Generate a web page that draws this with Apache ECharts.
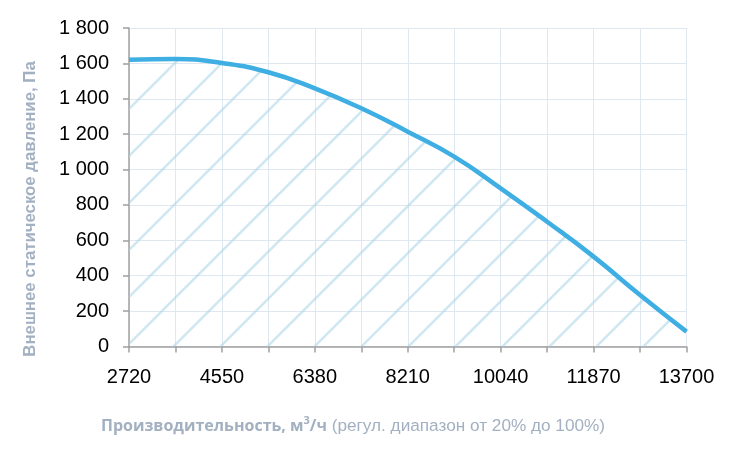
<!DOCTYPE html>
<html>
<head>
<meta charset="utf-8">
<script src="https://cdn.jsdelivr.net/npm/echarts@6/dist/echarts.min.js"></script>
<style>html,body{margin:0;padding:0;background:#fff;}#c{width:732px;height:467px;}</style>
</head>
<body>
<div id="c"></div>
<script>
// Data
var flow = [2720, 3635, 4550, 5465, 6380, 7295, 8210, 9125, 10040, 10955, 11870, 12785, 13700];
var pressure = [1620, 1625, 1602, 1550, 1459, 1346, 1214, 1073, 894, 705, 508, 291, 84];
var xTickLabels = [2720, 4550, 6380, 8210, 10040, 11870, 13700];
var xStart = 2720, xEnd = 13700, xStep = 915;
var yMax = 1800, yStep = 200;

// hatch pattern
var tile = 47;
var cv = document.createElement('canvas');
cv.width = tile; cv.height = tile;
var g = cv.getContext('2d');
g.strokeStyle = 'rgba(168,212,230,0.55)';
g.lineWidth = 2.6;
[3, 3 + tile, 3 + 2 * tile].forEach(function (c) {
  g.beginPath();
  g.moveTo(c + 5, -5);
  g.lineTo(-5, c + 5);
  g.stroke();
});

var chart = echarts.init(document.getElementById('c'));
var seriesData = flow.map(function (f, i) { return [f - xStart, pressure[i]]; });
var nameColor = '#a2b0c1';

chart.setOption({
  animation: false,
  grid: { left: 129, right: 45.5, top: 28, bottom: 120.5 },
  xAxis: {
    type: 'value', min: 0, max: xEnd - xStart, interval: xStep,
    axisLine: { show: true, lineStyle: { color: '#a0a0a0', width: 1.5 } },
    axisTick: { show: true, length: 6, lineStyle: { color: '#a0a0a0', width: 1.5 } },
    splitLine: { show: true, lineStyle: { color: '#dfe7f1', width: 1 } },
    axisLabel: {
      margin: 21, color: '#000', fontFamily: 'Liberation Sans', fontSize: 20,
      showMinLabel: true, showMaxLabel: true,
      formatter: function (v) {
        var real = Math.round(v + xStart);
        return xTickLabels.indexOf(real) >= 0 ? String(real) : '';
      }
    }
  },
  yAxis: {
    type: 'value', min: 0, max: yMax, interval: yStep,
    axisLine: { show: true, lineStyle: { color: '#a0a0a0', width: 1.5 } },
    axisTick: { show: true, length: 6, lineStyle: { color: '#a0a0a0', width: 1.5 } },
    splitLine: { show: true, lineStyle: { color: '#dfe7f1', width: 1 } },
    axisLabel: {
      margin: 20, color: '#000', fontFamily: 'Liberation Sans', fontSize: 20,
      formatter: function (v) {
        return v >= 1000 ? Math.floor(v / 1000) + ' ' + String(v % 1000).padStart(3, '0') : String(v);
      }
    }
  },
  series: [{
    type: 'line',
    data: seriesData,
    smooth: 0.5,
    symbol: 'none',
    lineStyle: { color: '#3eaee3', width: 4.5 },
    areaStyle: { color: { image: cv, repeat: 'repeat' }, opacity: 1 }
  }],
  graphic: [
    {
      type: 'text', x: 30, y: 209, rotation: Math.PI / 2,
      style: {
        text: 'Внешнее статическое давление, Па',
        fill: nameColor, font: 'bold 16.8px "Liberation Sans"',
        align: 'center', verticalAlign: 'middle'
      }
    },
    {
      type: 'text', x: 101, y: 426,
      style: {
        text: '{b|Производительность, м}{s|3}{b|/ч}{r| (регул. диапазон от 20% до 100%)}',
        align: 'left', verticalAlign: 'middle',
        rich: {
          b: { fontFamily: 'Open Sans', fontWeight: 'bold', fontSize: 16, fill: nameColor, lineHeight: 22 },
          s: { fontFamily: 'Open Sans', fontWeight: 'bold', fontSize: 11, fill: nameColor, verticalAlign: 'top', lineHeight: 22 },
          r: { fontFamily: 'Liberation Sans', fontSize: 17.2, fill: nameColor, lineHeight: 22 }
        }
      }
    }
  ]
});
</script>
</body>
</html>
